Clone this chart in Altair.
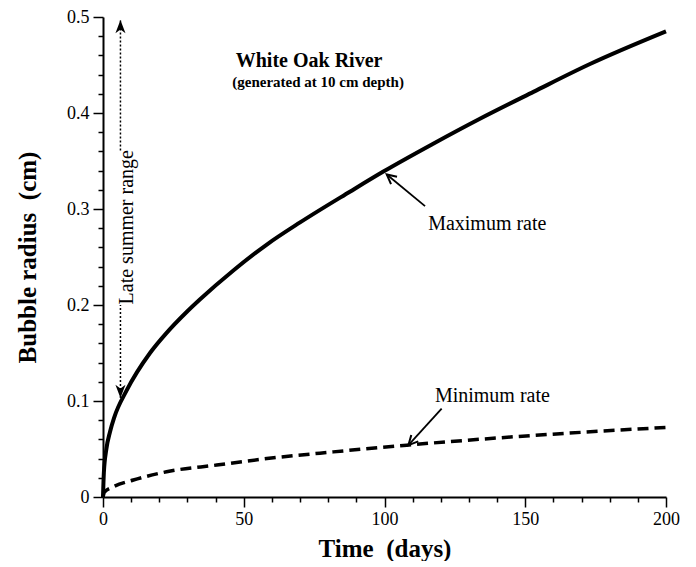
import altair as alt
import pandas as pd

# ---- data ----
max_t = [0, 0.3, 1.2, 2.5, 4.0, 8.4, 16.7, 22.6, 29.8, 34.5, 46.3, 58.2, 70.0, 87.7, 99.6, 117.3, 133.9, 152.9, 173.0, 200.0]
max_r = [0, 0.025, 0.050, 0.068, 0.083, 0.111, 0.150, 0.171, 0.193, 0.206, 0.236, 0.263, 0.286, 0.318, 0.339, 0.368, 0.394, 0.422, 0.451, 0.485]

min_t = [0, 0.5, 3.7, 10.8, 22.6, 40.4, 58.2, 81.8, 107.9, 145.8, 200.0]
min_r = [0, 0.005, 0.0107, 0.0177, 0.0263, 0.0333, 0.040, 0.047, 0.054, 0.0627, 0.0725]

x_ticks = list(range(0, 201, 10))
y_ticks = [round(i * 0.02, 2) for i in range(26)]

# annotation positions (data units)
title_text = ["White Oak River"]
title_pos = [(73.2, 0.448)]
sub_text = ["(generated at 10 cm depth)"]
sub_pos = [(76.4, 0.4275)]
label_text = ["Maximum rate", "Minimum rate"]
label_pos = [(115.5, 0.2786), (117.9, 0.099)]
arrow_tail = [(114.4, 0.303), (120.3, 0.092)]
arrow_tip = [(100.8, 0.336), (108.5, 0.054)]
arrow_angle = [309.6, 222.3]
range_t = 6.2
range_low, range_high = 0.103, 0.497
range_gap = (0.2, 0.361)
range_text = ["Late summer range"]
range_text_pos = [(8.5, 0.281)]

FONT = "Liberation Serif"

x_axis = alt.Axis(
    values=x_ticks,
    labelExpr="datum.value % 50 == 0 ? datum.label : ''",
    tickSize={"condition": {"test": "datum.value % 50 == 0", "value": 10}, "value": 5},
    tickColor="black", tickWidth=1.5, domainColor="black", domainWidth=2,
    labelFont=FONT, labelFontSize=18, labelColor="black", labelPadding=3,
    labelOverlap=False, labelFlush=False, grid=False,
    title="Time\u00a0 (days)", titleFont=FONT, titleFontSize=25, titleFontWeight="bold",
    titleColor="black", titleX=281.5, titleY=51, titleBaseline="middle", titleAlign="center",
)
y_axis = alt.Axis(
    values=y_ticks,
    labelExpr="abs(datum.value*10 - round(datum.value*10)) < 0.001 ? (datum.value == 0 ? '0' : format(datum.value, '.1f')) : ''",
    tickSize={"condition": {"test": "abs(datum.value*10 - round(datum.value*10)) < 0.001", "value": 10}, "value": 5},
    tickColor="black", tickWidth=1.5, domainColor="black", domainWidth=2,
    labelFont=FONT, labelFontSize=18, labelColor="black", labelPadding=4,
    labelOverlap=False, labelFlush=False, grid=False,
    title="Bubble radius\u00a0 (cm)", titleFont=FONT, titleFontSize=25, titleFontWeight="bold",
    titleColor="black", titleX=-76, titleY=240, titleBaseline="middle", titleAlign="center",
    titleAngle=270,
)

X = alt.X("t:Q", scale=alt.Scale(domain=[0, 200], nice=False), axis=x_axis)
Y = alt.Y("r:Q", scale=alt.Scale(domain=[0, 0.5], nice=False), axis=y_axis)

df_max = pd.DataFrame({"t": max_t, "r": max_r})
df_min = pd.DataFrame({"t": min_t, "r": min_r})

max_line = alt.Chart(df_max).mark_line(color="black", strokeWidth=4, interpolate="monotone").encode(x=X, y=Y)
min_line = alt.Chart(df_min).mark_line(color="black", strokeWidth=3.5, strokeDash=[11, 6], interpolate="monotone").encode(x=X, y=Y)

df_arrows = pd.DataFrame({
    "t": [a[0] for a in arrow_tail], "r": [a[1] for a in arrow_tail],
    "t2": [a[0] for a in arrow_tip], "r2": [a[1] for a in arrow_tip],
})
shafts = alt.Chart(df_arrows).mark_rule(color="black", strokeWidth=1.8).encode(x=X, y=Y, x2="t2:Q", y2="r2:Q")

df_heads = pd.DataFrame({"t": [a[0] for a in arrow_tip], "r": [a[1] for a in arrow_tip], "ang": arrow_angle})
heads = alt.Chart(df_heads).mark_point(
    shape="M-0.45,0.9 L0,0 L0.45,0.9", filled=False, stroke="black", strokeWidth=2, size=440, opacity=1
).encode(x=X, y=Y, angle=alt.Angle("ang:Q", scale=None))

df_range = pd.DataFrame({
    "t": [range_t, range_t], "r": [range_low, range_gap[1]],
    "t2": [range_t, range_t], "r2": [range_gap[0], range_high],
})
range_lines = alt.Chart(df_range).mark_rule(color="black", strokeWidth=1.5, strokeDash=[2, 2]).encode(
    x=X, y=Y, x2="t2:Q", y2="r2:Q")

up_head = alt.Chart(pd.DataFrame({"t": [range_t], "r": [range_high]})).mark_point(
    shape="M0,0 L0.45,1.2 L0,0.85 L-0.45,1.2 Z", filled=True, color="black", size=500, opacity=1
).encode(x=X, y=Y)
down_head = alt.Chart(pd.DataFrame({"t": [range_t], "r": [range_low]})).mark_point(
    shape="M0,0 L0.45,-1.2 L0,-0.85 L-0.45,-1.2 Z", filled=True, color="black", size=500, opacity=1
).encode(x=X, y=Y)

def text_df(texts, pos):
    return pd.DataFrame({"label": texts, "t": [p[0] for p in pos], "r": [p[1] for p in pos]})

title = alt.Chart(text_df(title_text, title_pos)).mark_text(
    font=FONT, fontSize=20, fontWeight="bold", color="black", align="center", baseline="alphabetic"
).encode(x=X, y=Y, text="label:N")
subtitle = alt.Chart(text_df(sub_text, sub_pos)).mark_text(
    font=FONT, fontSize=15, fontWeight="bold", color="black", align="center", baseline="alphabetic"
).encode(x=X, y=Y, text="label:N")
labels = alt.Chart(text_df(label_text, label_pos)).mark_text(
    font=FONT, fontSize=20, color="black", align="left", baseline="alphabetic"
).encode(x=X, y=Y, text="label:N")
range_label = alt.Chart(text_df(range_text, range_text_pos)).mark_text(
    font=FONT, fontSize=20, color="black", align="center", baseline="middle", angle=270
).encode(x=X, y=Y, text="label:N")

chart = alt.layer(
    max_line, min_line, shafts, heads, range_lines, up_head, down_head,
    title, subtitle, labels, range_label,
).properties(
    width=563, height=480,
    padding={"left": 95, "top": 9, "right": 22, "bottom": 64},
    autosize=alt.AutoSizeParams(type="none"),
    background="white",
).configure_view(stroke=None)

chart.save("out.html", embed_options={"renderer": "svg", "actions": False})
